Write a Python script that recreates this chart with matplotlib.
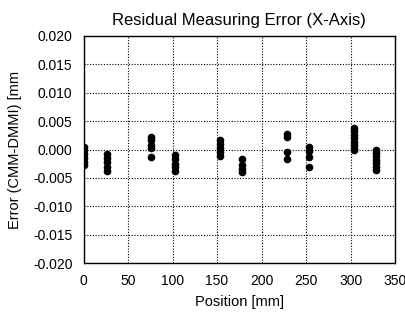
import matplotlib
matplotlib.use("Agg")
import matplotlib.pyplot as plt
import numpy as np

plt.rcParams['font.family'] = ['Liberation Sans', 'DejaVu Sans']

# positions [mm] and residual errors [mm] measured at each position
positions = [0, 26, 76, 103, 153, 178, 229, 253, 304, 329]
errors = [
    [0.0005, 0.0, -0.0007, -0.0014, -0.0021, -0.0028],
    [-0.0007, -0.0015, -0.0022, -0.0030, -0.0037],
    [0.0023, 0.0016, 0.0008, 0.0002, -0.0013],
    [-0.0010, -0.0017, -0.0025, -0.0031, -0.0037],
    [0.0017, 0.0010, 0.0003, -0.0004, -0.0012],
    [-0.0016, -0.0027, -0.0034, -0.0039],
    [0.0027, 0.0022, -0.0004, -0.0016],
    [0.0005, -0.0003, -0.0013, -0.0030],
    [0.0038, 0.0032, 0.0026, 0.0020, 0.0014, 0.0008, 0.0003, 0.0],
    [0.0, -0.0006, -0.0012, -0.0018, -0.0024, -0.0030, -0.0036],
]

xticks = [0, 50, 100, 150, 200, 250, 300, 350]
yticks = [-0.020, -0.015, -0.010, -0.005, 0.000, 0.005, 0.010, 0.015, 0.020]

fig = plt.figure(figsize=(4.06, 3.21), dpi=100)
ax = fig.add_axes([0.2057, 0.180, 0.7673, 0.708])

for x, ys in zip(positions, errors):
    ax.plot([x] * len(ys), ys, 'o', color='black', markersize=5.5,
            markeredgewidth=0)

ax.set_xlim(0, 350)
ax.set_ylim(-0.020, 0.020)
ax.set_xticks(xticks)
ax.set_yticks(yticks)
ax.set_yticklabels(["%.3f" % v for v in yticks])
ax.tick_params(length=0, labelsize=10, pad=8)
ax.grid(True, color='black', linestyle=(0, (1, 1.5)), linewidth=0.8)
for s in ax.spines.values():
    s.set_color('black')
    s.set_linewidth(1.0)

ax.set_title("Residual Measuring Error (X-Axis)", fontsize=12, pad=8)
ax.set_xlabel("Position [mm]", fontsize=10.5, labelpad=5)
ax.set_ylabel("Error (CMM-DMMI) [mm", fontsize=10.5, labelpad=8)

fig.savefig("out.png", dpi=100)
